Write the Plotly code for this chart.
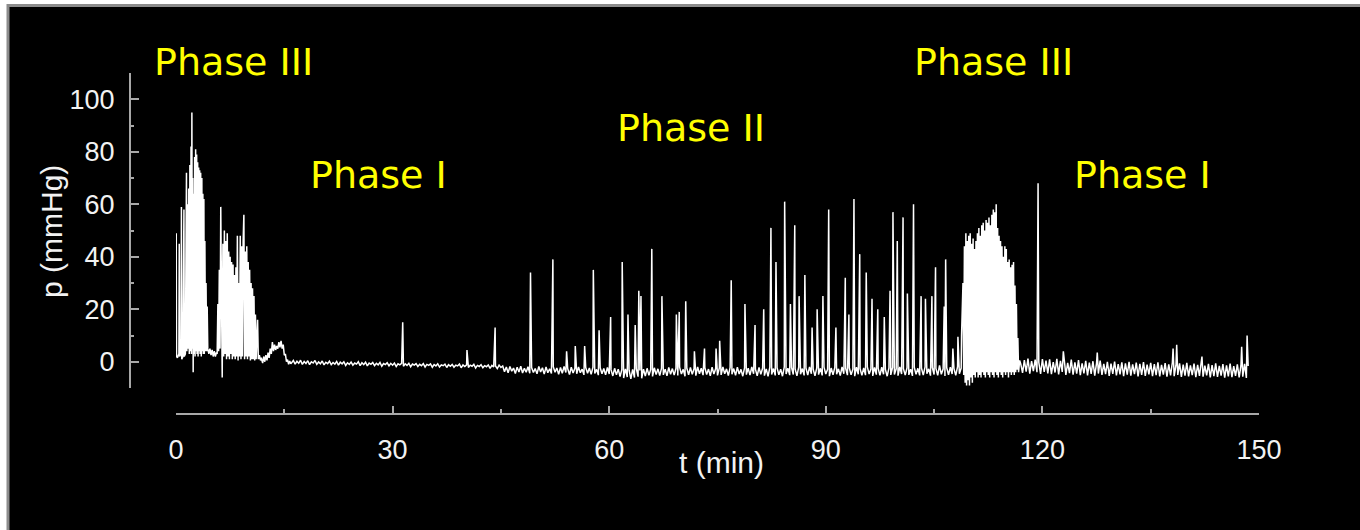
import plotly.graph_objects as go

# ---- data: (time in min, pressure in mmHg) ----
phase3_early = [
    (0.00, 2), (0.03, 49), (0.08, 2), (0.20, 1.5), (0.40, 3), (0.45, 45), (0.50, 2),
    (0.70, 3), (0.75, 59), (0.80, 1), (0.95, 2), (1.05, 40), (1.10, 58), (1.15, 2),
    (1.30, 3), (1.45, 72), (1.50, 4), (1.60, 60), (1.68, 5), (1.76, 66), (1.84, 3),
    (1.92, 75), (2.00, 4), (2.08, 82), (2.14, 3), (2.20, 95), (2.26, 5), (2.32, 70),
    (2.38, -4), (2.44, 64), (2.50, 3), (2.58, 78), (2.64, 2), (2.72, 81), (2.78, 4),
    (2.86, 79), (2.92, 3), (3.00, 76), (3.06, 2), (3.14, 74), (3.20, 4), (3.28, 73),
    (3.34, 3), (3.42, 72), (3.50, 2), (3.58, 70), (3.64, 4), (3.72, 64), (3.78, 3),
    (3.86, 62), (3.92, 3), (4.00, 46), (4.08, 4), (4.16, 30), (4.24, 4), (4.32, 21),
    (4.40, 5), (4.55, 3), (4.70, 5), (4.85, 2.5), (5.00, 4.5), (5.15, 2), (5.30, 4),
    (5.45, 2), (5.60, 3.5),
    (5.70, 3), (5.80, 22), (5.90, 4), (6.00, 35), (6.10, 5), (6.20, 59), (6.30, 4),
    (6.40, -6), (6.50, 45), (6.60, 2), (6.70, 50), (6.80, 3), (6.90, 46), (7.00, 1),
    (7.10, 49), (7.20, 2), (7.30, 42), (7.40, 1), (7.50, 40), (7.60, 3), (7.70, 38),
    (7.80, 1), (7.90, 37), (8.00, 2), (8.10, 33), (8.20, 1), (8.30, 36), (8.40, 2),
    (8.50, 48), (8.60, 0.5), (8.70, 30), (8.80, 2), (8.90, 48), (9.00, 1), (9.10, 44),
    (9.20, 2), (9.30, 46), (9.40, 56), (9.50, 1), (9.60, 42), (9.70, 2), (9.80, 44),
    (9.90, 1), (10.00, 38), (10.10, 2), (10.20, 35), (10.30, 0.5), (10.40, 30),
    (10.50, 1), (10.60, 28), (10.70, 1), (10.80, 25), (10.90, 0.5), (11.00, 18),
    (11.10, 1), (11.30, 16), (11.40, 1), (11.55, 2.5), (11.70, 0.5),
    (11.80, 1.5), (12.00, -0.5), (12.15, 2), (12.30, 0), (12.45, 2.5), (12.60, 0.5),
    (12.75, 3.5), (12.90, 1.5), (13.05, 5), (13.20, 3), (13.35, 7.5), (13.50, 4),
    (13.65, 6.5), (13.80, 4.5), (13.95, 6), (14.10, 5), (14.25, 7.5), (14.40, 5.5),
    (14.55, 8), (14.70, 5), (14.85, 6.5), (15.00, 2.5), (15.15, 3), (15.30, 0),
    (15.45, 0.8), (15.60, -1), (15.75, 0.3), (15.90, -0.8),
]

phase1_early_base = [
    (16.0, -0.4), (16.25, 0.5), (16.5, -0.9), (16.75, 0.2), (17.0, -0.6), (17.25, 0.6), (17.5, -1.0), (17.75, 0.1),
    (18.0, -0.7), (18.25, 0.4), (18.5, -1.1), (18.75, 0.0), (19.0, -0.5), (19.25, 0.5), (19.5, -1.0), (19.75, -0.1),
    (20.0, -0.8), (20.25, 0.3), (20.5, -1.2), (20.75, -0.2), (21.0, -0.7), (21.25, 0.2), (21.5, -1.1), (21.75, -0.3),
    (22.0, -0.9), (22.25, 0.1), (22.5, -1.3), (22.75, -0.2), (23.0, -0.8), (23.25, 0.0), (23.5, -1.4), (23.75, -0.4),
    (24.0, -1.0), (24.25, -0.1), (24.5, -1.3), (24.75, -0.5), (25.0, -0.9), (25.25, 0.0), (25.5, -1.5), (25.75, -0.4),
    (26.0, -1.1), (26.25, -0.2), (26.5, -1.6), (26.75, -0.5), (27.0, -1.0), (27.25, -0.3), (27.5, -1.5), (27.75, -0.6),
    (28.0, -1.2), (28.25, -0.3), (28.5, -1.7), (28.75, -0.7), (29.0, -1.1), (29.25, -0.4), (29.5, -1.6), (29.75, -0.6),
    (30.0, -1.3), (30.25, -0.5), (30.5, -1.8), (30.75, -0.8), (31.0, -1.2), (31.25, -0.6), (31.5, -1.7), (31.75, -0.8),
    (32.0, -1.4), (32.25, -0.6), (32.5, -1.9), (32.75, -0.9), (33.0, -1.3), (33.25, -0.7), (33.5, -1.8), (33.75, -1.0),
    (34.0, -1.5), (34.25, -0.7), (34.5, -2.0), (34.75, -1.0), (35.0, -1.4), (35.25, -0.8), (35.5, -2.1), (35.75, -1.1),
    (36.0, -1.6), (36.25, -0.8), (36.5, -2.0), (36.75, -1.2), (37.0, -1.5), (37.25, -0.9), (37.5, -2.2), (37.75, -1.1),
    (38.0, -1.7), (38.25, -1.0), (38.5, -2.1), (38.75, -1.3), (39.0, -1.6), (39.25, -0.9), (39.5, -2.3), (39.75, -1.2),
    (40.0, -1.8), (40.25, -1.2), (40.5, -2.2), (40.75, -1.3), (41.0, -1.7), (41.25, -1.0), (41.5, -2.4), (41.75, -1.4),
    (42.0, -1.8), (42.25, -1.1), (42.5, -2.3), (42.75, -1.5), (43.0, -1.9), (43.25, -1.2), (43.5, -2.5), (43.75, -1.4),
    (44.0, -2.0), (44.25, -1.6), (44.5, -2.6), (44.75, -1.3), (45.0, -2.2),
]
phase1_early_spikes = [(31.4, 15), (40.3, 4.5), (44.2, 13)]

phase2_base = [
    (45.25, -1.6), (45.5, -3.8), (45.75, -2.0), (46.0, -4.2), (46.25, -1.8), (46.5, -3.6), (46.75, -2.4), (47.0, -4.5),
    (47.25, -2.1), (47.5, -3.9), (47.75, -1.7), (48.0, -4.3), (48.25, -2.5), (48.5, -4.0), (48.75, -1.9), (49.0, -4.4),
    (49.25, -2.2), (49.5, -4.1), (49.75, -2.6), (50.0, -4.6), (50.25, -1.8), (50.5, -3.9), (50.75, -2.3), (51.0, -4.7),
    (51.25, -2.0), (51.5, -4.2), (51.75, -2.7), (52.0, -4.5), (52.25, -1.9), (52.5, -4.0), (52.75, -2.4), (53.0, -4.8),
    (53.25, -2.2), (53.5, -4.4), (53.75, -1.8), (54.0, -4.1), (54.25, -2.6), (54.5, -4.9), (54.75, -2.1), (55.0, -4.3),
    (55.25, -2.5), (55.5, -4.6), (55.75, -2.0), (56.0, -4.2), (56.25, -2.8), (56.5, -5.0), (56.75, -2.2), (57.0, -4.4),
    (57.25, -2.4), (57.5, -4.8), (57.75, -2.1), (58.0, -4.5), (58.25, -2.9), (58.5, -5.1), (58.75, -2.3), (59.0, -4.6),
    (59.25, -2.6), (59.5, -5.0), (59.75, -2.2), (60.0, -4.7), (60.25, -3.0), (60.5, -5.4), (60.75, -2.5), (61.0, -5.0),
    (61.25, -2.8), (61.5, -5.6), (61.75, -3.0), (62.0, -6.2), (62.25, -2.7), (62.5, -5.8), (62.75, -3.2), (63.0, -6.5),
    (63.25, -2.9), (63.5, -6.0), (63.75, -2.6), (64.0, -5.7), (64.25, -3.3), (64.5, -6.3), (64.75, -2.8), (65.0, -5.5),
    (65.25, -2.5), (65.5, -5.2), (65.75, -2.9), (66.0, -5.6), (66.25, -2.3), (66.5, -4.9), (66.75, -2.7), (67.0, -5.3),
    (67.25, -2.4), (67.5, -5.0), (67.75, -2.8), (68.0, -5.4), (68.25, -2.2), (68.5, -4.8), (68.75, -2.6), (69.0, -5.1),
    (69.25, -2.5), (69.5, -5.2), (69.75, -2.1), (70.0, -4.7), (70.25, -2.9), (70.5, -5.5), (70.75, -2.4), (71.0, -5.0),
    (71.25, -2.2), (71.5, -4.8), (71.75, -2.7), (72.0, -5.3), (72.25, -2.0), (72.5, -4.6), (72.75, -2.5), (73.0, -5.1),
    (73.25, -2.3), (73.5, -4.9), (73.75, -2.8), (74.0, -5.4), (74.25, -2.1), (74.5, -4.7), (74.75, -2.6), (75.0, -5.2),
    (75.25, -2.4), (75.5, -5.0), (75.75, -2.0), (76.0, -4.6), (76.25, -2.7), (76.5, -5.3), (76.75, -2.2), (77.0, -4.8),
    (77.25, -2.6), (77.5, -5.2), (77.75, -2.1), (78.0, -4.7), (78.25, -2.9), (78.5, -5.5), (78.75, -2.3), (79.0, -4.9),
    (79.25, -2.5), (79.5, -5.1), (79.75, -2.0), (80.0, -4.6), (80.25, -2.8), (80.5, -5.4), (80.75, -2.2), (81.0, -4.8),
    (81.25, -2.4), (81.5, -5.3), (81.75, -2.7), (82.0, -5.6), (82.25, -2.1), (82.5, -4.9), (82.75, -2.6), (83.0, -5.2),
    (83.25, -2.3), (83.5, -5.0), (83.75, -2.8), (84.0, -5.5), (84.25, -2.0), (84.5, -4.7), (84.75, -2.5), (85.0, -5.1),
    (85.25, -2.2), (85.5, -4.9), (85.75, -2.7), (86.0, -5.4), (86.25, -2.1), (86.5, -4.8), (86.75, -2.6), (87.0, -5.2),
    (87.25, -2.4), (87.5, -5.1), (87.75, -2.0), (88.0, -4.6), (88.25, -2.8), (88.5, -5.4), (88.75, -2.3), (89.0, -4.9),
    (89.25, -2.5), (89.5, -5.2), (89.75, -2.1), (90.0, -4.7), (90.25, -2.9), (90.5, -5.5), (90.75, -2.4), (91.0, -5.0),
    (91.25, -2.2), (91.5, -4.8), (91.75, -2.7), (92.0, -5.3), (92.25, -2.0), (92.5, -4.6), (92.75, -2.5), (93.0, -5.1),
    (93.25, -2.3), (93.5, -5.0), (93.75, -2.8), (94.0, -5.5), (94.25, -2.1), (94.5, -4.8), (94.75, -2.6), (95.0, -5.2),
    (95.25, -2.4), (95.5, -5.1), (95.75, -2.0), (96.0, -4.7), (96.25, -2.8), (96.5, -5.4), (96.75, -2.2), (97.0, -4.9),
    (97.25, -2.5), (97.5, -5.2), (97.75, -2.1), (98.0, -4.8), (98.25, -2.9), (98.5, -5.5), (98.75, -2.3), (99.0, -5.0),
    (99.25, -2.2), (99.5, -4.9), (99.75, -2.7), (100.0, -5.3), (100.25, -2.0), (100.5, -4.7), (100.75, -2.6), (101.0, -5.1),
    (101.25, -2.3), (101.5, -5.0), (101.75, -2.8), (102.0, -5.4), (102.25, -2.1), (102.5, -4.8), (102.75, -2.5), (103.0, -5.2),
    (103.25, -2.4), (103.5, -5.1), (103.75, -2.0), (104.0, -4.6), (104.25, -2.7), (104.5, -5.3), (104.75, -2.2), (105.0, -4.9),
    (105.25, -2.5), (105.5, -5.2), (105.75, -1.4), (106.0, -4.8), (106.25, -2.8), (106.5, -5.4), (106.75, -2.3), (107.0, -5.0),
    (107.25, -2.1), (107.5, -4.7), (107.75, -2.6), (108.0, -5.2), (108.25, -1.9), (108.5, -4.6), (108.75, -2.4),
]
phase2_spikes = [
    (49.1, 34), (52.2, 39), (54.1, 4), (55.3, 6), (56.6, 6), (57.8, 35), (58.6, 12),
    (60.2, 17), (61.8, 38), (62.6, 18), (63.6, 14), (64.1, 27), (64.4, 25), (65.9, 43),
    (67.3, 25), (69.3, 18), (69.7, 19), (70.6, 23), (71.8, 4), (73.2, 5), (74.8, 5),
    (75.3, 8), (76.9, 31), (78.8, 22), (80.2, 14), (81.4, 20), (82.4, 51), (83.1, 38),
    (84.3, 61), (85.1, 22), (85.7, 52), (86.3, 25), (87.1, 33), (88.1, 13), (88.8, 20),
    (89.6, 25), (90.4, 58), (91.4, 13), (92.7, 32), (93.2, 18), (93.9, 62), (94.7, 41),
    (95.6, 34), (96.4, 24), (97.2, 20), (98.1, 17), (98.9, 27), (99.3, 57), (99.9, 46),
    (100.7, 55), (101.3, 26), (102.05, 43), (102.15, 60), (103.2, 25), (103.8, 24),
    (104.7, 25), (105.2, 36), (106.4, 21), (106.6, 39), (107.6, 5), (108.3, 9.5),
    (108.8, 10),
]

phase3_late = [
    (109.0, 30), (109.1, -5), (109.2, 44), (109.3, -8), (109.4, 49), (109.5, -9),
    (109.6, 46), (109.7, -7), (109.8, 48), (109.9, -9), (110.0, 49), (110.1, -6),
    (110.2, 45), (110.3, -8), (110.4, 47), (110.5, -5), (110.6, 43), (110.7, -6),
    (110.8, 46), (110.9, -4), (111.0, 49), (111.1, -6), (111.2, 51), (111.3, -5),
    (111.4, 48), (111.5, -6), (111.6, 52), (111.7, -4), (111.8, 53), (111.9, -5),
    (112.0, 50), (112.1, -6), (112.2, 54), (112.3, -4), (112.4, 53), (112.5, -5),
    (112.6, 55), (112.7, -6), (112.8, 52), (112.9, -4), (113.0, 56), (113.1, -5),
    (113.2, 58), (113.3, -6), (113.4, 57), (113.5, -4), (113.6, 60), (113.7, -5),
    (113.8, 51), (113.9, -6), (114.0, 48), (114.1, -4), (114.2, 46), (114.3, -5),
    (114.4, 44), (114.5, -6), (114.6, 40), (114.7, -4), (114.8, 44), (114.9, -5),
    (115.0, 43), (115.1, -4), (115.2, 38), (115.3, -6), (115.4, 39), (115.5, -4),
    (115.6, 36), (115.7, -5), (115.8, 37), (115.9, -4), (116.0, 38), (116.1, -5),
    (116.2, 29), (116.3, -4), (116.4, 22), (116.5, -3), (116.6, 9), (116.7, -4),
    (116.85, 0.5),
]

phase1_late_base = [
    (117.0, -0.8), (117.25, -4.2), (117.5, 0.6), (117.75, -3.8), (118.0, 1.2), (118.25, -4.5), (118.5, 0.2), (118.75, -3.6),
    (119.0, 0.8), (119.25, -4.0), (119.5, -0.2), (119.75, -4.6), (120.0, 1.0), (120.25, -3.9), (120.5, 0.4), (120.75, -4.4),
    (121.0, 0.9), (121.25, -4.7), (121.5, -0.1), (121.75, -4.1), (122.0, 1.1), (122.25, -4.8), (122.5, 0.3), (122.75, -3.9),
    (123.0, 0.5), (123.25, -5.0), (123.5, -0.4), (123.75, -4.3), (124.0, 0.8), (124.25, -4.9), (124.5, -0.2), (124.75, -4.5),
    (125.0, 0.6), (125.25, -5.1), (125.5, -0.6), (125.75, -4.4), (126.0, 0.3), (126.25, -5.2), (126.5, -0.3), (126.75, -4.6),
    (127.0, 0.2), (127.25, -5.3), (127.5, -0.5), (127.75, -4.5), (128.0, 0.4), (128.25, -5.0), (128.5, -0.8), (128.75, -4.7),
    (129.0, 0.0), (129.25, -5.4), (129.5, -0.7), (129.75, -4.6), (130.0, 0.1), (130.25, -5.2), (130.5, -0.9), (130.75, -4.8),
    (131.0, -0.2), (131.25, -5.5), (131.5, -0.6), (131.75, -4.9), (132.0, 0.0), (132.25, -5.3), (132.5, -1.0), (132.75, -4.7),
    (133.0, -0.3), (133.25, -5.6), (133.5, -0.8), (133.75, -5.0), (134.0, -0.1), (134.25, -5.4), (134.5, -1.1), (134.75, -4.8),
    (135.0, -0.4), (135.25, -5.5), (135.5, -0.9), (135.75, -5.1), (136.0, -0.2), (136.25, -5.6), (136.5, -1.2), (136.75, -4.9),
    (137.0, -0.5), (137.25, -5.7), (137.5, -1.0), (137.75, -5.2), (138.0, -0.3), (138.25, -5.5), (138.5, -1.3), (138.75, -5.0),
    (139.0, -0.6), (139.25, -5.8), (139.5, -1.1), (139.75, -5.3), (140.0, -0.4), (140.25, -5.6), (140.5, -1.4), (140.75, -5.1),
    (141.0, -0.7), (141.25, -5.9), (141.5, -1.2), (141.75, -5.4), (142.0, -0.5), (142.25, -5.7), (142.5, -1.5), (142.75, -5.2),
    (143.0, -0.8), (143.25, -6.0), (143.5, -1.3), (143.75, -5.5), (144.0, -0.6), (144.25, -5.8), (144.5, -1.6), (144.75, -5.3),
    (145.0, -0.9), (145.25, -6.1), (145.5, -1.4), (145.75, -5.6), (146.0, -0.7), (146.25, -5.9), (146.5, -1.7), (146.75, -5.4),
    (147.0, -1.0), (147.25, -6.0), (147.5, -1.5), (147.75, -5.7), (148.0, -0.8), (148.25, -6.2), (148.5, -1.6),
]
phase1_late_spikes = [
    (119.4, 68), (122.9, 4), (127.6, 3.5), (138.1, 5), (138.6, 6.5), (142.1, 2),
    (147.6, 5.7), (148.35, 10),
]

phase_labels = ["Phase III", "Phase I", "Phase II", "Phase III", "Phase I"]
x_ticks = [0, 30, 60, 90, 120, 150]
y_ticks = [0, 20, 40, 60, 80, 100]
x_title = "t (min)"
y_title = "p (mmHg)"

# ---- build one continuous series (merge spikes into baselines by time) ----
def merged(base, spikes):
    return sorted(base + spikes, key=lambda pt: pt[0])

trace_pts = (phase3_early
             + merged(phase1_early_base, phase1_early_spikes)
             + merged(phase2_base, phase2_spikes)
             + phase3_late
             + merged(phase1_late_base, phase1_late_spikes))
t_vals = [a for a, b in trace_pts]
p_vals = [b for a, b in trace_pts]

W, H = 1360, 530
def px(x):
    return x / W
def py(y):
    return 1 - y / H

fig = go.Figure()
fig.add_trace(go.Scatter(x=t_vals, y=p_vals, mode="lines",
                         line=dict(color="white", width=1.5),
                         hoverinfo="skip", showlegend=False))

axis_col = "#a8a8a8"
tick_font = dict(family="Liberation Sans, Arial, sans-serif", size=27, color="#f2f2f2")
title_font = dict(family="Liberation Sans, Arial, sans-serif", size=30, color="#f2f2f2")

fig.update_layout(
    width=W, height=H,
    margin=dict(l=0, r=0, t=0, b=0, pad=0),
    paper_bgcolor="white",
    plot_bgcolor="rgba(0,0,0,0)",
    showlegend=False,
    xaxis=dict(
        domain=[px(176), px(1259)], range=[0, 150],
        anchor="free", position=py(414),
        showline=True, linecolor=axis_col, linewidth=2,
        ticks="inside", ticklen=7, tickwidth=1.5, tickcolor=axis_col,
        tickvals=x_ticks, ticktext=[str(v) for v in x_ticks],
        minor=dict(tickvals=[15, 45, 75, 105, 135], ticks="inside", ticklen=4,
                   tickwidth=1.5, tickcolor=axis_col),
        showgrid=False, zeroline=False, automargin=False,
        tickfont=tick_font, ticklabelstandoff=12,
    ),
    yaxis=dict(
        domain=[py(388), py(73)], range=[-10, 110],
        anchor="free", position=px(130), side="left",
        showline=True, linecolor=axis_col, linewidth=2,
        ticks="inside", ticklen=8, tickwidth=1.5, tickcolor=axis_col,
        tickvals=y_ticks, ticktext=[str(v) for v in y_ticks],
        minor=dict(tickvals=[10, 30, 50, 70, 90], ticks="inside", ticklen=3,
                   tickwidth=1.5, tickcolor=axis_col),
        showgrid=False, zeroline=False, automargin=False,
        tickfont=tick_font, ticklabelstandoff=9,
    ),
    shapes=[dict(type="rect", xref="paper", yref="paper",
                 x0=px(8), x1=1.05, y0=-0.05, y1=py(5.5),
                 fillcolor="black", line=dict(color="#8c8c8c", width=3),
                 layer="below")],
)

annots = []
label_pos = [(233, 62), (378, 175), (691, 128), (993, 62), (1142, 175)]
for txt, (lx, ly) in zip(phase_labels, label_pos):
    annots.append(dict(text=txt, x=px(lx), y=py(ly), xref="paper", yref="paper",
                       showarrow=False, xanchor="center", yanchor="middle",
                       font=dict(family="DejaVu Sans, Verdana, sans-serif", size=38,
                                 color="#ffff00")))
annots.append(dict(text=x_title, x=px(721), y=py(462), xref="paper", yref="paper",
                   showarrow=False, xanchor="center", yanchor="middle", font=title_font))
annots.append(dict(text=y_title, x=px(51), y=py(232), xref="paper", yref="paper",
                   showarrow=False, xanchor="center", yanchor="middle", textangle=-90,
                   font=title_font))
fig.update_layout(annotations=annots)

fig.write_html("out.html")
